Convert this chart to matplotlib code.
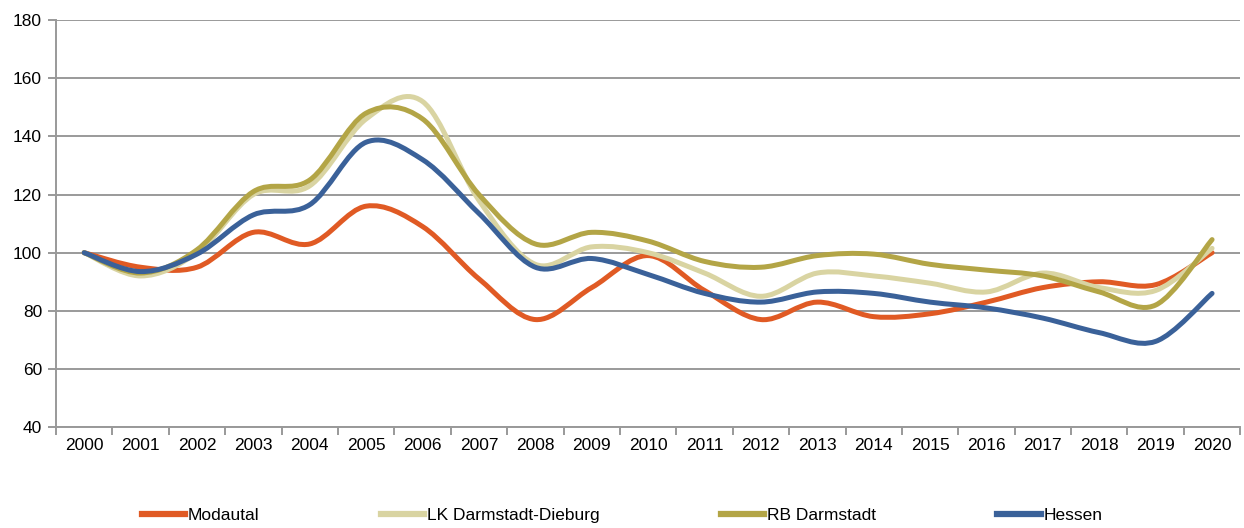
import matplotlib
matplotlib.use("Agg")
import matplotlib.pyplot as plt
from matplotlib.path import Path
from matplotlib.patches import PathPatch
from matplotlib.lines import Line2D
import matplotlib.font_manager as fm

years = [str(y) for y in range(2000, 2021)]
modautal = [100, 95, 95, 107, 103, 116, 109, 91, 77, 88, 99, 87, 77, 83, 78, 79, 83, 88, 90, 89, 100]
lk_darmstadt = [100, 92, 100, 120, 123, 146, 152, 118, 96, 102, 100, 93, 85, 93, 92, 89.5, 86.5, 93, 88, 87, 101.5]
rb_darmstadt = [100, 93, 101, 121, 125, 148, 146, 120, 103, 107, 104, 97, 95, 99, 99.5, 96, 94, 92, 86.5, 82, 104.5]
hessen = [100, 93.5, 99.5, 113, 116.5, 138, 132, 113.5, 95, 98, 92.5, 86, 83, 86.5, 86, 83, 81, 77.5, 72.5, 69.5, 86]

series = [
    ("Modautal", modautal, "#E05A24"),
    ("LK Darmstadt-Dieburg", lk_darmstadt, "#D9D4A2"),
    ("RB Darmstadt", rb_darmstadt, "#B3A546"),
    ("Hessen", hessen, "#3A6199"),
]

names = {f.name for f in fm.fontManager.ttflist}
fam = "Liberation Sans Narrow" if "Liberation Sans Narrow" in names else "Liberation Sans"
plt.rcParams["font.family"] = [fam, "DejaVu Sans"]

fig = plt.figure(figsize=(12.44, 5.28), dpi=100)
ax = fig.add_axes([0.045, 0.191, 0.952, 0.771])


def smooth_path(xs, ys):
    verts = [(xs[0], ys[0])]
    codes = [Path.MOVETO]
    n = len(xs)
    for i in range(n - 1):
        x0, y0 = (xs[i - 1], ys[i - 1]) if i > 0 else (xs[i], ys[i])
        x1, y1 = xs[i], ys[i]
        x2, y2 = xs[i + 1], ys[i + 1]
        x3, y3 = (xs[i + 2], ys[i + 2]) if i + 2 < n else (xs[i + 1], ys[i + 1])
        c1 = (x1 + (x2 - x0) / 6.0, y1 + (y2 - y0) / 6.0)
        c2 = (x2 - (x3 - x1) / 6.0, y2 - (y3 - y1) / 6.0)
        verts += [c1, c2, (x2, y2)]
        codes += [Path.CURVE4] * 3
    return Path(verts, codes)


xs = list(range(len(years)))
handles = []
for name, vals, col in series:
    p = smooth_path(xs, vals)
    ax.add_patch(PathPatch(p, facecolor="none", edgecolor=col, lw=3.6,
                           capstyle="round", joinstyle="round", zorder=3))
    handles.append(Line2D([], [], color=col, lw=4.5, label=name))

ax.set_xlim(-0.5, len(years) - 0.5)
ax.set_ylim(40, 180)
ax.set_yticks(range(40, 181, 20))
ax.set_xticks(xs)
ax.set_xticklabels(years)
ax.set_xticks([i - 0.5 for i in range(len(years) + 1)], minor=True)
ax.tick_params(axis="x", which="major", length=0, labelsize=12.5, pad=8)
ax.tick_params(axis="x", which="minor", length=6, color="#888888", width=1.2)
ax.tick_params(axis="y", which="major", length=6, color="#888888", width=1.2, labelsize=12.5, pad=4)
ax.yaxis.grid(True, color="#9a9a9a", lw=1.4)
ax.set_axisbelow(True)
for s in ["top", "right"]:
    ax.spines[s].set_visible(False)
for s in ["left", "bottom"]:
    ax.spines[s].set_color("#999999")
    ax.spines[s].set_linewidth(1.4)

fig.legend(handles=handles, loc="center", bbox_to_anchor=(0.5, 0.023), ncol=4,
           frameon=False, fontsize=12.5, handlelength=2.5, handletextpad=0.15,
           columnspacing=7.0)

fig.savefig("out.png", dpi=100)
